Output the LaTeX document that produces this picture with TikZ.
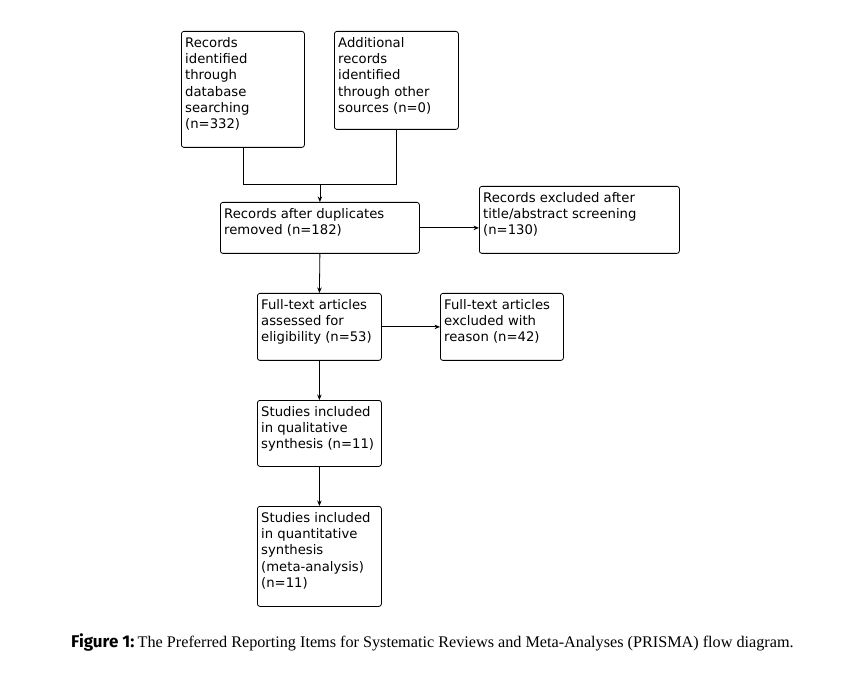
\documentclass[tikz,border=0pt]{standalone}
\usepackage{fontspec}
\setmainfont{Liberation Serif}
\setsansfont{DejaVu Sans}
\newfontfamily\figfont{Fira Sans}
\usetikzlibrary{arrows.meta}
\begin{document}
\begin{tikzpicture}[x=1pt,y=-1pt,
  box/.style={draw, rounded corners=2.5pt, line width=0.8pt, inner sep=0pt, anchor=north west},
  lbl/.style={anchor=north west, align=left, inner sep=0pt, xshift=4pt, yshift=-6pt,
    font=\sffamily\fontsize{13.2}{16.3}\selectfont},
  conn/.style={line width=0.8pt},
  arr/.style={conn, -{Stealth[length=5.5pt,width=4.5pt]}}]
\useasboundingbox (0,0) rectangle (849,676);
\node[box, minimum width=123pt, minimum height=116pt, label={[lbl]north west:{Records\\identified\\through\\database\\searching\\(n=332)}}] (b1) at (181,31) {};
\node[box, minimum width=124pt, minimum height=98pt, label={[lbl]north west:{Additional\\records\\identified\\through other\\sources (n=0)}}] (b2) at (334,31) {};
\node[box, minimum width=199pt, minimum height=51pt, label={[lbl]north west:{Records after duplicates\\removed (n=182)}}] (b3) at (220,202) {};
\node[box, minimum width=200pt, minimum height=67pt, label={[lbl]north west:{Records excluded after\\title/abstract screening\\(n=130)}}] (b4) at (479,186) {};
\node[box, minimum width=124pt, minimum height=67pt, label={[lbl]north west:{Full-text articles\\assessed for\\eligibility (n=53)}}] (b5) at (257,293) {};
\node[box, minimum width=123pt, minimum height=67pt, label={[lbl]north west:{Full-text articles\\excluded with\\reason (n=42)}}] (b6) at (440,293) {};
\node[box, minimum width=124pt, minimum height=66pt, label={[lbl]north west:{Studies included\\in qualitative\\synthesis (n=11)}}] (b7) at (257,400) {};
\node[box, minimum width=124pt, minimum height=100pt, label={[lbl]north west:{Studies included\\in quantitative\\synthesis\\(meta-analysis)\\(n=11)}}] (b8) at (257,506) {};
\coordinate (j) at (b3.north |- 0,184);
\draw[conn] (b1.south) |- (j);
\draw[conn] (b2.south) |- (j);
\draw[arr] (j) -- (b3.north);
\draw[arr] (b3.east) -- (b4.west |- b3.east);
\draw[arr] (b3.south) -- (b5.north);
\draw[arr] (b5.east) -- (b6.west);
\draw[arr] (b5.south) -- (b7.north);
\draw[arr] (b7.south) -- (b8.north);
\node[anchor=base west, inner sep=0pt] (cap) at (71,647) {{\figfont\bfseries\fontsize{17}{18}\selectfont Figure 1:} {\fontsize{16.2}{18}\selectfont The Preferred Reporting Items for Systematic Reviews and Meta-Analyses (PRISMA) flow diagram.}};
\end{tikzpicture}
\end{document}
